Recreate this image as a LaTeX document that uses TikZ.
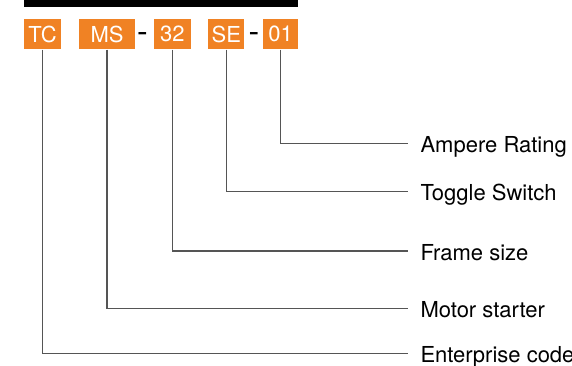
\documentclass[tikz,border=0pt]{standalone}
\usepackage{fontspec}
\setmainfont{TeX Gyre Heros}
\usetikzlibrary{positioning}
\definecolor{codeorange}{RGB}{240,130,36}
\definecolor{leadgray}{RGB}{85,85,85}

\begin{document}
\begin{tikzpicture}[x=1pt,y=-1pt,
        codebox/.style={fill=codeorange,text=white,inner sep=0pt,minimum height=30.3pt,font=\fontsize{22}{24}\selectfont},
        partlabel/.style={anchor=west,inner xsep=12pt,inner ysep=0pt,text height=18pt,text depth=0pt,font=\fontsize{22}{24}\selectfont},
        sep/.style={anchor=base,inner sep=0pt,font=\fontsize{32}{34}\selectfont},
        lead/.style={leadgray,line width=1.2pt}]
        \useasboundingbox (0,0) rectangle (572,366);
        \fill (24.3,-2) rectangle (298,7.3);
        % code boxes
        \foreach \name/\txt/\x/\w in {boxtc/TC/42.5/36.4,boxms/MS\hspace{4pt}/107/55.4,box32/32/172.3/36.7,boxse/SE/226.3/36,box01/01/280.5/35}
            {
                \node[codebox,minimum width=\w pt] (\name) at (\x,34.2) {\txt};
            }
        \node[sep] (dash1) at (142.5,42.2) {-};
        \node[sep] (dash2) at (254,42.2) {-};
        % labels
        \foreach \name/\txt/\y in {ampere/Ampere Rating/143.3,toggle/Toggle Switch/191.5,frame/Frame size/251,motor/Motor starter/308.5,enterprise/Enterprise code/353.3}
            {
                \node[partlabel] (\name) at (408.3,\y) {\txt};
            }
        \foreach \a/\b in {boxtc/enterprise,boxms/motor,box32/frame,boxse/toggle,box01/ampere}
            \draw[lead] (\a.south) |- (\b.west);
    \end{tikzpicture}
\end{document}
